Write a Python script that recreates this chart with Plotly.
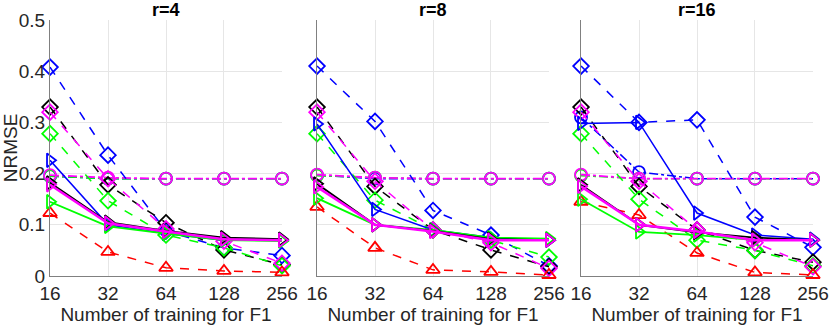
import math
import plotly.graph_objects as go

# x values (number of training samples) and panel titles
n_train = [16, 32, 64, 128, 256]
x_ticks = ["16", "32", "64", "128", "256"]
panel_titles = ["r=4", "r=8", "r=16"]
y_ticks = [0, 0.1, 0.2, 0.3, 0.4, 0.5]

# one row per panel (r=4, r=8, r=16)
blue_circle = [[0.195, 0.19, 0.19, 0.19, 0.19],
               [0.197, 0.19, 0.19, 0.19, 0.19],
               [0.31, 0.203, 0.19, 0.19, 0.19]]
green_circle = [[0.195, 0.19, 0.19, 0.19, 0.19],
                [0.196, 0.192, 0.19, 0.19, 0.19],
                [0.196, 0.19, 0.19, 0.19, 0.19]]
magenta_circle = [[0.197, 0.192, 0.19, 0.19, 0.19],
                  [0.198, 0.192, 0.19, 0.19, 0.19],
                  [0.198, 0.19, 0.19, 0.19, 0.19]]

blue_diamond = [[0.408, 0.236, 0.088, 0.055, 0.04],
                [0.41, 0.302, 0.128, 0.08, 0.02],
                [0.41, 0.30, 0.305, 0.115, 0.056]]
black_diamond = [[0.33, 0.178, 0.104, 0.051, 0.022],
                 [0.33, 0.175, 0.09, 0.051, 0.018],
                 [0.33, 0.175, 0.09, 0.05, 0.027]]
green_diamond = [[0.278, 0.147, 0.08, 0.055, 0.02],
                 [0.278, 0.148, 0.09, 0.07, 0.037],
                 [0.278, 0.15, 0.07, 0.05, 0.02]]
magenta_diamond = [[0.32, 0.19, 0.092, 0.068, 0.025],
                   [0.32, 0.185, 0.09, 0.065, 0.015],
                   [0.32, 0.185, 0.09, 0.065, 0.018]]

red_triangle = [[0.123, 0.047, 0.016, 0.01, 0.007],
                [0.135, 0.055, 0.012, 0.008, 0.002],
                [0.145, 0.119, 0.045, 0.007, 0.002]]

blue_solid = [[0.226, 0.1, 0.083, 0.07, 0.07],
              [0.297, 0.13, 0.09, 0.075, 0.07],
              [0.298, 0.30, 0.123, 0.08, 0.072]]
green_solid = [[0.145, 0.097, 0.083, 0.07, 0.068],
               [0.152, 0.1, 0.09, 0.075, 0.073],
               [0.15, 0.086, 0.08, 0.07, 0.07]]
black_solid = [[0.182, 0.105, 0.088, 0.075, 0.072],
               [0.18, 0.1, 0.088, 0.072, 0.07],
               [0.178, 0.1, 0.085, 0.075, 0.07]]
magenta_solid = [[0.178, 0.103, 0.087, 0.072, 0.07],
                 [0.174, 0.1, 0.087, 0.07, 0.07],
                 [0.175, 0.1, 0.087, 0.07, 0.07]]

# (data, color, dash, marker, line width) in drawing order
series = [
    (blue_circle, '#0000FF', 'dashdot', 'circle-open', 1.5),
    (green_circle, '#00FF00', 'dashdot', 'circle-open', 1.5),
    (magenta_circle, '#FF00FF', 'dashdot', 'circle-open', 1.8),
    (blue_diamond, '#0000FF', 'dash', 'diamond-open', 1.5),
    (black_diamond, '#000000', 'dash', 'diamond-open', 1.5),
    (green_diamond, '#00FF00', 'dash', 'diamond-open', 1.5),
    (magenta_diamond, '#FF00FF', 'dash', 'diamond-open', 1.5),
    (red_triangle, '#FF0000', 'dash', 'triangle-up-open', 1.5),
    (blue_solid, '#0000FF', 'solid', 'triangle-right-open', 1.5),
    (green_solid, '#00FF00', 'solid', 'triangle-right-open', 1.8),
    (black_solid, '#000000', 'solid', 'triangle-right-open', 1.8),
    (magenta_solid, '#FF00FF', 'solid', 'triangle-right-open', 2.5),
]

FONT = 'Liberation Sans, Arial'
fig = go.Figure()

x_domains = [(50 / 830, 282 / 830), (317 / 830, 549 / 830), (581 / 830, 813 / 830)]
y_domain = (1 - 276 / 325, 1 - 20 / 325)
eps = 1e-4

for p in range(3):
    xa = 'x' if p == 0 else f'x{p + 1}'
    ya = 'y' if p == 0 else f'y{p + 1}'
    for data, color, dash, symbol, lw in series:
        fig.add_trace(go.Scatter(
            x=n_train, y=data[p], xaxis=xa, yaxis=ya,
            mode='lines+markers',
            line=dict(color=color, dash=dash, width=lw),
            marker=dict(symbol=symbol, size=12, color=color,
                        line=dict(color=color, width=1.8)),
            showlegend=False, cliponaxis=False,
        ))

    axis_style = dict(showgrid=True, gridcolor='#E6E6E6', gridwidth=1,
                      zeroline=False, showline=True, linecolor='#808080',
                      linewidth=1, ticks='', mirror=False, automargin=False,
                      ticklabeloverflow='allow',
                      tickfont=dict(family=FONT, size=19, color='#262626'))
    xkey = 'xaxis' if p == 0 else f'xaxis{p + 1}'
    ykey = 'yaxis' if p == 0 else f'yaxis{p + 1}'
    fig.update_layout({
        xkey: dict(type='log', domain=x_domains[p], anchor=ya,
                   range=[math.log10(16) - eps, math.log10(256) + eps],
                   tickvals=n_train, ticktext=x_ticks,
                   title=dict(text='Number of training for F1', standoff=2,
                              font=dict(family=FONT, size=19, color='#262626')),
                   **axis_style),
        ykey: dict(domain=y_domain, anchor=xa, range=[0, 0.5],
                   tickvals=y_ticks, showticklabels=(p == 0),
                   tickformat='.1~f',
                   **axis_style),
    })
    fig.add_annotation(
        text=f'<b>{panel_titles[p]}</b>', xref='paper', yref='paper',
        x=sum(x_domains[p]) / 2, y=1 - 10 / 325, xanchor='center', yanchor='middle',
        showarrow=False, font=dict(family=FONT, size=18, color='#000000'))

fig.update_layout(
    yaxis_title=dict(text='NRMSE', standoff=4,
                     font=dict(family=FONT, size=19, color='#262626')),
    width=830, height=325,
    margin=dict(l=0, r=0, t=0, b=0),
    paper_bgcolor='white', plot_bgcolor='white',
)

# drop the page's default body margin so the figure sits at the top-left corner
fig.write_html("out.html", config={'displayModeBar': False},
               post_script="document.body.style.margin='0px';")
